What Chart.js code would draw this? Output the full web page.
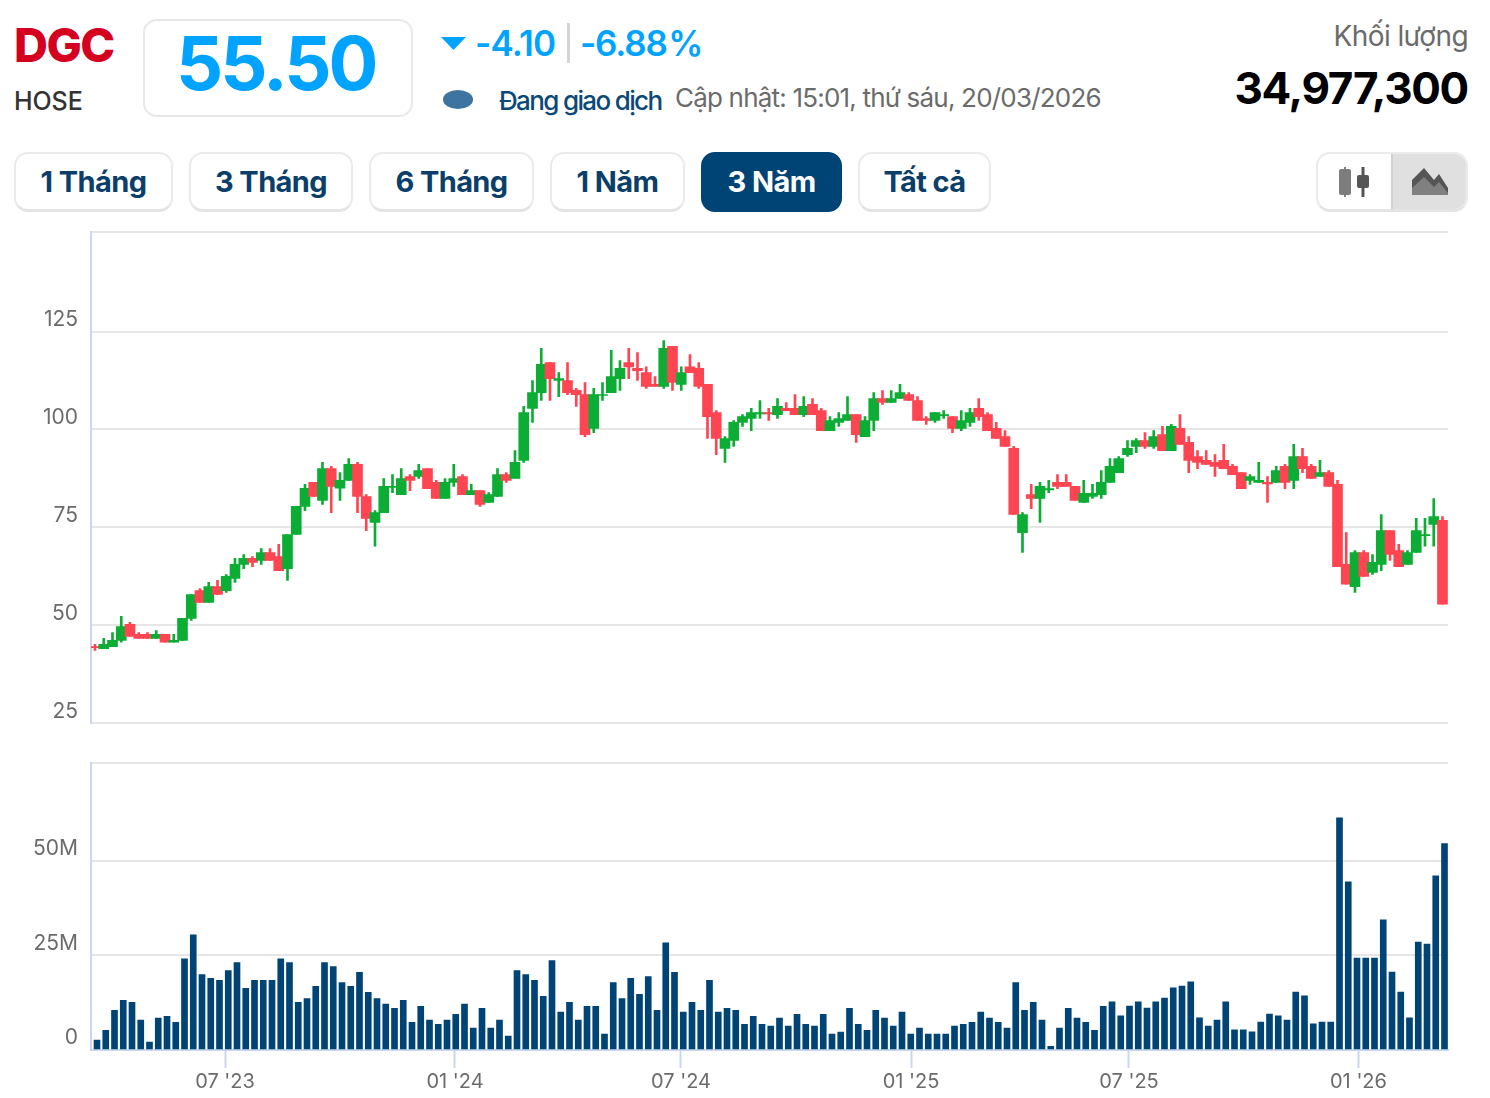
<!DOCTYPE html>
<html lang="vi">
<head>
<meta charset="utf-8">
<title>DGC</title>
<script src="https://cdn.jsdelivr.net/npm/chart.js@4"></script>
<style>
html,body{margin:0;padding:0;background:#fff;width:1490px;height:1098px;overflow:hidden;font-family:Inter,"Noto Sans",sans-serif}
.t{position:absolute;white-space:nowrap;line-height:1}
.box{position:absolute;box-sizing:border-box;background:#fff;border:2px solid #e8e8e8}
.btn{position:absolute;box-sizing:border-box;top:152px;height:60px;border:2px solid #ebebeb;border-bottom:3px solid #e4e4e4;border-radius:14px;background:#fff;color:#0b3f69;font-size:29px;font-weight:700;letter-spacing:-.6px;display:flex;align-items:center;justify-content:center}
.btn.on{background:#004375;border-color:#004375;color:#fff}
canvas{position:absolute;left:0}
</style>
</head>
<body>
<div class="t" style="left:14px;top:21px;font-size:47px;font-weight:800;color:#d5001f;letter-spacing:-1.5px">DGC</div>
<div class="t" style="left:14px;top:89px;font-size:25px;font-weight:500;color:#333;letter-spacing:-.1px">HOSE</div>
<div class="box" style="left:143px;top:19px;width:270px;height:98px;border-radius:14px"></div>
<div class="t" style="left:176px;top:26px;font-size:74px;font-weight:700;color:#00a3ff;letter-spacing:-3px">55.50</div>
<svg style="position:absolute;left:441px;top:37px" width="25" height="14"><polygon points="0,0 25,0 12.5,13" fill="#00a3ff"/></svg>
<div class="t" style="left:475px;top:26px;font-size:35px;font-weight:600;color:#00a3ff;letter-spacing:-.8px">-4.10</div>
<div style="position:absolute;left:567px;top:23px;width:3px;height:40px;background:#d4d4d4"></div>
<div class="t" style="left:580px;top:26px;font-size:35px;font-weight:600;color:#00a3ff;letter-spacing:-1.2px;word-spacing:-6px">-6.88 %</div>
<div style="position:absolute;left:443px;top:90px;width:30px;height:19px;border-radius:50%;background:#3d74a0"></div>
<div class="t" style="left:499px;top:88px;font-size:26px;font-weight:500;color:#0b4a78;letter-spacing:-1.65px">Đang giao dịch</div>
<div class="t" style="left:675px;top:85px;font-size:26px;font-weight:400;color:#6b6b6b;letter-spacing:-.8px">Cập nhật: 15:01, thứ sáu, 20/03/2026</div>
<div class="t" style="right:22px;top:22px;font-size:28px;font-weight:400;color:#6b6b6b;letter-spacing:-.6px">Khối lượng</div>
<div class="t" style="right:22px;top:66px;font-size:44px;font-weight:700;color:#000;letter-spacing:-1.3px">34,977,300</div>

<div class="btn" style="left:14px;width:159px">1 Tháng</div>
<div class="btn" style="left:189px;width:164px">3 Tháng</div>
<div class="btn" style="left:369px;width:165px">6 Tháng</div>
<div class="btn" style="left:550px;width:135px">1 Năm</div>
<div class="btn on" style="left:701px;width:141px">3 Năm</div>
<div class="btn" style="left:858px;width:133px">Tất cả</div>

<div class="btn" style="left:1316px;width:152px;overflow:hidden;padding:0">
  <div style="position:absolute;left:73px;top:0;right:0;bottom:0;background:#e0e0e0;border-left:2px solid #d0d0d0"></div>
</div>
<svg style="position:absolute;left:1339px;top:167px" width="30" height="30">
  <rect x="5" y="0" width="2" height="30" fill="#7d7d7d"/><rect x="0" y="2" width="12" height="26" rx="2" fill="#7d7d7d"/>
  <rect x="22.5" y="0" width="3" height="30" fill="#555"/><rect x="18" y="8" width="12" height="13" rx="2" fill="#555"/>
</svg>
<svg style="position:absolute;left:1412px;top:168px" width="37" height="28">
  <polygon points="0,12 12,0 22,12 27,6 36,20 36,27 0,27" fill="#555"/>
  <polygon points="0,20 12,9 22,19 27,14 36,25 36,27 0,27" fill="#808080"/>
</svg>

<canvas id="priceChart" width="1490" height="543" style="top:206px"></canvas>
<canvas id="volumeChart" width="1490" height="360" style="top:737px"></canvas>

<script>
const opens=[44.6,44.1,44.6,46.2,50.3,47.7,47.7,46.7,47.7,45.7,46.2,51.8,58.9,55.9,59.9,58.9,62,65.6,67.1,66.6,68.6,67.6,64.5,73.2,80.4,86.5,81.9,90,85,87,91.1,82.9,76.3,78.8,85.2,83.4,88,88,90,86.5,82.4,86.5,88,83.4,84.4,81.4,82.9,88.5,87.5,92.1,105.4,109.4,117.1,112.5,112.5,110,108.9,100.3,108.7,109.4,113,117.1,115.6,114.5,111.5,111,121.2,111.5,116,115.6,111.5,104.3,95.2,97.2,101.8,102.8,104,104.3,103.8,105.4,105.4,103.8,106.4,104.8,99.7,101.8,102.3,103.8,98.2,102.3,107.9,106.9,107.9,108.9,107.4,102.8,102.3,103.5,103.3,100.3,101.8,105.4,103.8,100.3,98.2,95.2,73.7,83.4,82.4,84.6,86.5,86.5,85.5,81.4,82.9,83.4,86.5,89,93.6,95.7,97.2,95.7,98.7,94.6,100.3,96.7,93.1,92.1,91.6,92.1,90.6,89,87,86.5,86.5,86.5,90.6,87,93.1,90.6,88,89,86,65.6,59.9,68.6,63.5,65.6,74.2,69.1,65.6,68.6,72.9,75.8,76.8];
const closes=[44.3,45.2,46.2,49.7,47.2,46.7,46.7,47.7,45.7,46.2,51.8,57.9,55.9,59.9,57.9,62.5,65.6,67.1,66.1,68.6,66.6,64,73.2,80.4,85,82.9,90,85.5,87,91.1,82.9,77.3,78.8,85.5,85.5,87.5,87,89.5,84.9,82.4,86.5,87.5,83.4,84.4,80.9,83.4,88.5,87,91.6,104.3,109.4,116.6,113,113,109.4,108.9,98.7,108.9,108.9,113.5,115.6,116,115,111,111,120.7,112,114.5,114.5,111,103.3,97.7,97.7,101.8,103.3,104.3,104.3,104,105.9,104.8,103.8,105.9,103.8,99.7,102.3,102.8,103.8,98.7,102.3,107.9,106.9,107.9,109.4,107.4,102.3,102.3,104.3,103.8,100.3,102.3,104.3,103.3,99.7,97.7,95.7,78.3,78.3,82.4,85.5,84.9,85.5,85.5,81.9,83.7,83.7,86.5,90.6,92.6,95.2,97.2,95.7,98.2,94.6,100.8,96.2,92.1,91.6,91.1,90.6,90,88.5,84.9,88,87,86.1,89.5,86.5,93.1,90,87.5,89,85.5,65,60.5,68.6,62.5,66.1,74.2,68.1,65,68.6,74.2,73.2,77.8,55.4];
const highs=[45.2,46.7,48.2,52.3,50.8,48.2,48.2,48.7,47.7,47.7,51.8,57.9,59.4,61,61.5,63,67.1,68.1,67.6,69.6,69.6,70.7,73.2,80.4,86,86.5,91.6,90.6,89,92.6,91.6,83.4,79.3,87.5,88.5,90,88.5,91.1,90,87,87.5,91.1,88.5,86,84.4,83.9,90,89,94.6,105.9,112.5,120.7,117.1,114.5,117.1,110.5,112,110.5,112,120.2,117.6,120.7,119.6,116,113.5,122.7,121.2,116,119.1,117.1,111.5,104.8,98.2,102.3,103.8,105.4,107.4,105.4,107.9,106.9,108.9,108.4,107.9,105.4,103.3,104.3,108.4,103.8,103.3,109.4,109.9,109.9,111.5,109.4,108.4,103.3,104.3,104.8,103.3,104.8,105.4,107.9,104.3,101.8,99.7,95.7,78.8,86,86.5,87,88.5,88.5,85.5,87,86,89.5,92.6,93.1,97.2,97.7,99.2,99.7,100.8,101.3,103.8,98.2,94.6,94.6,93.6,96.2,91.1,89,88.5,91.6,88,90.6,91.1,96.2,95.2,91.1,92.1,89.5,87,73.7,69.1,69.1,68.1,78.3,74.2,70.7,69.1,77.3,77.3,82.4,77.8];
const lows=[43.6,44.1,44.6,45.7,47.2,46.7,46.7,46.7,45.7,45.7,46.2,51.3,55.9,55.9,57.9,58.4,61,64.5,65,65.6,66.6,64,61.5,73.2,79.3,82.9,80.9,78.8,81.9,87,78.8,74.2,70.2,78.8,83.9,83.4,84.4,87.5,84.9,82.4,82.4,85.5,83.4,83.4,80.4,81.4,82.9,86.5,87.5,91.6,101.8,107.4,107.4,108.4,108.9,105.9,98.2,99.2,107.4,109.4,110,113,112.5,110.5,111,110.5,110,110,114.5,110.5,97.7,93.6,91.6,95.7,100.8,99.7,102.8,102.3,102.8,104.8,103.8,103.3,103.8,99.7,99.7,100.8,102.3,96.7,98.2,99.7,106.4,106.9,107.9,107.4,102.3,101.3,101.8,102.8,99.2,99.7,100.8,102.3,99.7,97.7,95.7,78.3,68.6,79.8,76.3,83.9,84.9,85.5,81.9,81.4,82.4,82.4,86.5,89,93.1,94.1,95.2,95.2,94.6,94.6,96.2,89,90,91.1,88,90,88.5,84.9,86,86.5,81.4,86.5,84.9,84.9,89,87.5,88,85.5,65,60.5,58.4,62.5,63,64,66.6,65,65.6,68.6,70.2,70.2,55.4];
const volumes=[2.6,5.2,10.5,13.1,12.6,7.9,2.1,8.4,8.9,7.3,24.1,30.4,19.9,18.9,18.4,21,23.1,16.3,18.4,18.4,18.4,24.1,23.1,12.6,13.6,16.8,23.1,22,17.8,16.8,20.5,15.2,13.6,12.1,11,13.1,7.3,11.5,7.9,6.8,7.9,9.4,12.1,5.8,11,5.8,7.9,3.7,21,19.9,18.4,14.2,23.6,10,12.6,7.9,11.5,11.5,4.2,17.8,13.6,18.9,14.7,19.4,10.5,28.3,20.5,10,12.6,10.5,18.4,10,11,10.5,6.8,8.9,6.8,6.3,8.4,6.3,9.4,6.8,6.3,9.4,4.2,4.7,11,6.8,5.2,10.5,8.4,6.3,10,4.2,5.8,4.2,4.2,4.2,6.3,6.8,7.3,10,8.4,7.3,5.8,17.8,10.5,12.6,7.9,1,5.8,11,8.4,7.3,5.2,11.5,12.7,9,11.6,12.7,11.1,12.7,13.7,16.4,16.9,18,8.5,6.3,7.9,12.7,5.3,5.3,4.8,7.4,9.5,9,7.9,15.3,14.3,6.9,7.4,7.4,61.3,44.4,24.3,24.3,24.3,34.4,20.6,15.3,8.5,28.5,28,46,54.5];
const priceTicks=[25,50,75,100,125,150.5];
const priceTickLabels=['25','50','75','100','125',''];
const volumeTicks=[0,25,50,75.9];
const volumeTickLabels=['0','25M','50M',''];
const dateTicks=[14.63,40.91,66.74,93.03,117.94,144.17];
const dateTickLabels=["07 '23","01 '24","07 '24","01 '25","07 '25","01 '26"];

const UP='#0bad35', DOWN='#ff4452', GRID='#e6e6e6', AXIS='#ccd6eb', TXT='#6b6b6b';
const idx=opens.map((_,i)=>i);
const candleColor=opens.map((o,i)=>closes[i]>=o?UP:DOWN);
Chart.defaults.animation=false;
Chart.defaults.responsive=false;

function yScale(min,max,vals,labs){
  return {min,max,
    afterBuildTicks:s=>{s.ticks=vals.map(v=>({value:v}));},
    afterFit:s=>{s.width=91;},
    ticks:{font:{family:'Inter',size:21},color:TXT,padding:13,labelOffset:-12,callback:(v,i)=>labs[i],autoSkip:false},
    grid:{color:GRID,lineWidth:2,drawTicks:false},
    border:{color:AXIS,width:2}};
}

new Chart(document.getElementById('priceChart'),{
  type:'bar',
  data:{labels:idx,datasets:[
    {label:'Thân nến',data:opens.map((o,i)=>({x:i,y:[o,closes[i]]})),backgroundColor:candleColor,barThickness:10,grouped:false,order:1},
    {label:'Bóng nến',data:highs.map((h,i)=>({x:i,y:[lows[i],h]})),backgroundColor:candleColor,barThickness:2,grouped:false,order:2}
  ]},
  options:{
    layout:{padding:{top:15,bottom:15,right:42,left:0}},
    plugins:{legend:{display:false},tooltip:{enabled:false}},
    scales:{
      x:{type:'linear',display:false,offset:false,grid:{offset:false},min:-0.457,max:154.63},
      y:yScale(25,150.5,priceTicks,priceTickLabels)
    }
  }
});

new Chart(document.getElementById('volumeChart'),{
  type:'bar',
  data:{labels:idx,datasets:[
    {label:'Khối lượng',data:volumes.map((v,i)=>({x:i,y:v})),backgroundColor:'#004375',barThickness:6,grouped:false}
  ]},
  options:{
    layout:{padding:{top:15,bottom:0,right:42,left:0}},
    plugins:{legend:{display:false},tooltip:{enabled:false}},
    scales:{
      x:{type:'linear',offset:false,min:-0.686,max:154.4,
        afterBuildTicks:s=>{s.ticks=dateTicks.map(v=>({value:v}));},
        afterFit:s=>{s.height=47;},
        ticks:{font:{family:'Inter',size:20},color:TXT,padding:2,maxRotation:0,minRotation:0,autoSkip:false,callback:(v,i)=>dateTickLabels[i]},
        grid:{offset:false,drawOnChartArea:false,drawTicks:true,tickLength:18,tickColor:AXIS,tickWidth:2},
        border:{color:'#c6d9f0',width:2}},
      y:yScale(0,75.9,volumeTicks,volumeTickLabels)
    }
  }
});
</script>
</body>
</html>
